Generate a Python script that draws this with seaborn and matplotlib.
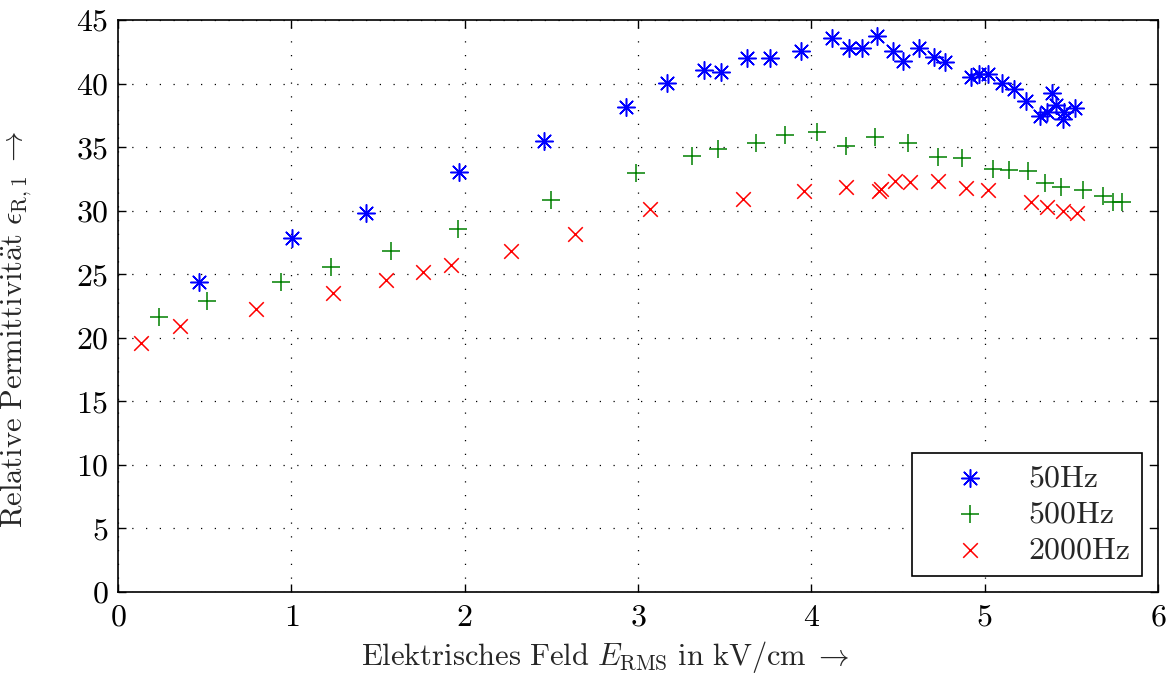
import matplotlib
matplotlib.use("Agg")
import matplotlib.pyplot as plt
import seaborn as sns
import pandas as pd

# ---- data ----
x_50 = [0.467, 1.004, 1.43, 1.97, 2.46, 2.93, 3.17, 3.38, 3.48, 3.63, 3.76, 3.94,
        4.12, 4.22, 4.29, 4.38, 4.47, 4.53, 4.62, 4.71, 4.77, 4.92, 4.97, 5.02,
        5.10, 5.17, 5.24, 5.32, 5.36, 5.39, 5.41, 5.45, 5.46, 5.52]
y_50 = [24.4, 27.85, 29.82, 33.04, 35.48, 38.16, 40.05, 41.07, 40.9, 42.0, 42.0, 42.6,
        43.64, 42.85, 42.78, 43.77, 42.6, 41.8, 42.78, 42.07, 41.68, 40.55, 40.76, 40.76,
        40.1, 39.57, 38.66, 37.47, 37.8, 39.3, 38.3, 37.2, 37.8, 38.13]

x_500 = [0.238, 0.512, 0.939, 1.231, 1.573, 1.962, 2.496, 2.988, 3.31, 3.46, 3.68, 3.85,
         4.03, 4.20, 4.37, 4.56, 4.73, 4.87, 5.05, 5.14, 5.25, 5.35, 5.44, 5.57,
         5.68, 5.74, 5.79]
y_500 = [21.61, 22.92, 24.39, 25.55, 26.86, 28.59, 30.84, 33.0, 34.33, 34.88, 35.3, 35.93,
         36.17, 35.12, 35.83, 35.36, 34.2, 34.12, 33.33, 33.25, 33.15, 32.16, 31.9, 31.63,
         31.18, 30.66, 30.71]

x_2000 = [0.131, 0.358, 0.794, 1.238, 1.546, 1.758, 1.919, 2.267, 2.637, 3.069, 3.608,
          3.96, 4.20, 4.39, 4.40, 4.48, 4.57, 4.73, 4.89, 5.02, 5.27, 5.36, 5.45, 5.53]
y_2000 = [19.62, 20.93, 22.27, 23.55, 24.55, 25.2, 25.73, 26.86, 28.14, 30.13, 30.97,
          31.57, 31.9, 31.57, 31.72, 32.37, 32.3, 32.37, 31.76, 31.63, 30.66, 30.32, 30.0, 29.8]

labels = ["50Hz", "500Hz", "2000Hz"]
x_ticks = [0, 1, 2, 3, 4, 5, 6]
y_ticks = [0, 5, 10, 15, 20, 25, 30, 35, 40, 45]

df = pd.concat([
    pd.DataFrame({"E": x_50, "eps": y_50, "f": labels[0]}),
    pd.DataFrame({"E": x_500, "eps": y_500, "f": labels[1]}),
    pd.DataFrame({"E": x_2000, "eps": y_2000, "f": labels[2]}),
], ignore_index=True)

sns.set_style("ticks")
plt.rcParams["font.family"] = ["cmr10", "DejaVu Serif"]
plt.rcParams["mathtext.fontset"] = "cm"
plt.rcParams["axes.formatter.use_mathtext"] = True
plt.rcParams["axes.unicode_minus"] = False

fig = plt.figure(figsize=(11.73, 6.75), dpi=100)
ax = fig.add_axes([0.1006, 0.123, 0.8866, 0.847])

colors = {"50Hz": "#0000ff", "500Hz": "#008000", "2000Hz": "#ff0000"}
markers = {"50Hz": (8, 2, 0), "500Hz": "+", "2000Hz": "x"}
sizes = {"50Hz": 160, "500Hz": 170, "2000Hz": 110}

for lab in labels:
    sub = df[df["f"] == lab]
    sns.scatterplot(data=sub, x="E", y="eps", ax=ax, marker=markers[lab],
                    color=colors[lab], s=sizes[lab], linewidth=1.1, label=lab,
                    legend=True)

FS = 23
LFS = 22
ax.set_xlim(0, 6)
ax.set_ylim(0, 45)
ax.set_xticks(x_ticks)
ax.set_yticks(y_ticks)
ax.grid(True, color="black", linestyle=(0, (1, 10)), linewidth=0.9)
ax.tick_params(direction="in", top=True, right=True, length=6, width=1,
               labelsize=FS, colors="black")
ax.tick_params(axis="x", pad=9)
ax.tick_params(axis="y", pad=7)
for sp in ax.spines.values():
    sp.set_color("black")
    sp.set_linewidth(1.2)
    sp.set_visible(True)

ax.set_xlabel(r"$\mathrm{Elektrisches\ Feld\ }E_{\mathrm{RMS}}\mathrm{\ in\ kV/cm}\;\rightarrow$",
              fontsize=LFS)
ax.xaxis.set_label_coords(0.468, -0.082)
ax.set_ylabel(r"$\mathrm{Relative\ Permittivit\ddot{a}t}\ \epsilon_{\mathrm{R},1}\;\rightarrow$",
              fontsize=LFS)
ax.yaxis.set_label_coords(-0.081, 0.46)

leg = ax.legend(loc="lower right", fontsize=FS, frameon=True, fancybox=False,
                edgecolor="black", framealpha=1, borderpad=0.35, handletextpad=0.4,
                labelspacing=0.25, handlelength=2.9, borderaxespad=0.5)
leg.get_frame().set_linewidth(1.2)

fig.savefig("out.png", dpi=100)
